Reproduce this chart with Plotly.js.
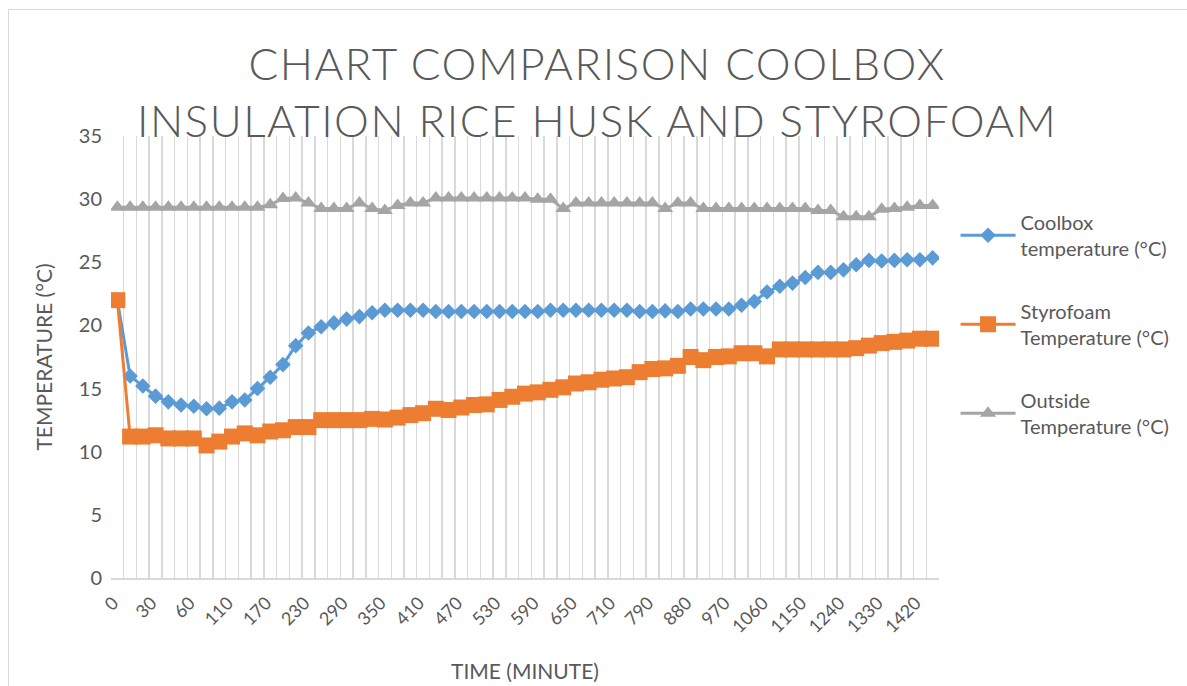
<!DOCTYPE html>
<html>
<head>
<meta charset="utf-8">
<script src="https://cdn.plot.ly/plotly-3.0.1.min.js"></script>
<style>
  html, body { margin: 0; padding: 0; background: #fff; }
  #wrap { position: relative; width: 1187px; height: 686px; overflow: hidden; }
  #chart { position: absolute; left: 0; top: 0; width: 1187px; height: 686px; }
  #frame { position: absolute; left: 8px; top: 9px; width: 1300px; height: 800px;
           border-top: 1.5px solid #D9D9D9; border-left: 1.5px solid #D9D9D9; pointer-events: none; }
  .gtitle { letter-spacing: 1.5px; }
</style>
</head>
<body>
<div id="wrap">
  <div id="chart"></div>
  <div id="frame"></div>
</div>
<script>
const timeMinutes = [0,10,20,30,40,50,60,70,90,110,130,150,170,190,210,230,250,270,290,310,330,350,370,390,410,430,450,470,490,510,530,550,570,590,610,630,650,670,690,710,730,760,790,820,850,880,910,940,970,1000,1030,1060,1090,1120,1150,1180,1210,1240,1270,1300,1330,1360,1390,1420,1440];

const coolboxTemp = [22.0,16.0,15.2,14.4,13.95,13.7,13.6,13.4,13.45,13.95,14.1,15.0,15.9,16.9,18.4,19.4,19.9,20.2,20.5,20.7,21.0,21.2,21.2,21.2,21.2,21.1,21.1,21.1,21.1,21.1,21.1,21.1,21.1,21.1,21.2,21.2,21.2,21.2,21.2,21.2,21.2,21.1,21.1,21.15,21.1,21.3,21.3,21.3,21.3,21.6,21.9,22.65,23.1,23.35,23.8,24.2,24.2,24.4,24.8,25.15,25.1,25.15,25.2,25.2,25.35];

const styrofoamTemp = [22.0,11.2,11.2,11.3,11.05,11.05,11.05,10.5,10.8,11.2,11.45,11.3,11.6,11.7,11.95,11.95,12.5,12.5,12.5,12.5,12.6,12.55,12.7,12.9,13.05,13.4,13.3,13.5,13.7,13.75,14.1,14.35,14.6,14.7,14.9,15.1,15.4,15.5,15.7,15.8,15.9,16.3,16.55,16.6,16.8,17.5,17.25,17.5,17.55,17.8,17.8,17.55,18.1,18.1,18.1,18.1,18.1,18.1,18.2,18.4,18.6,18.7,18.8,18.95,18.95];

const outsideTemp = [29.35,29.35,29.35,29.35,29.35,29.35,29.35,29.35,29.35,29.35,29.35,29.35,29.55,30.05,30.1,29.7,29.25,29.25,29.25,29.7,29.25,29.1,29.5,29.7,29.7,30.1,30.1,30.1,30.1,30.1,30.1,30.1,30.1,30.0,30.0,29.25,29.7,29.7,29.7,29.7,29.7,29.7,29.7,29.25,29.7,29.7,29.25,29.25,29.25,29.25,29.25,29.25,29.25,29.25,29.25,29.1,29.1,28.6,28.6,28.6,29.2,29.25,29.35,29.5,29.5];

const seriesNames = ["Coolbox<br>temperature (°C)", "Styrofoam<br>Temperature (°C)", "Outside<br>Temperature (°C)"];
const yTickValues = [0,5,10,15,20,25,30,35];
const labelEvery = 3;

const cats = timeMinutes.map(String);
const tickText = cats.map((c, i) => (i % labelEvery === 0 ? c : ""));

const font = "Lato, 'Open Sans', sans-serif";
const textColor = "#595959";

const traces = [
  { x: cats, y: coolboxTemp, name: seriesNames[0], legendgroup: "a", type: "scatter", mode: "lines+markers",
    line: { color: "#5B9BD5", width: 3 }, marker: { symbol: "diamond", size: 12, color: "#5B9BD5" } },
  { x: cats, y: styrofoamTemp, name: seriesNames[1], legendgroup: "b", type: "scatter", mode: "lines+markers",
    line: { color: "#ED7D31", width: 3 }, marker: { symbol: "square", size: 16, color: "#ED7D31" } },
  { x: cats, y: outsideTemp, name: seriesNames[2], legendgroup: "c", type: "scatter", mode: "lines+markers",
    line: { color: "#A5A5A5", width: 3 }, marker: { symbol: "triangle-up", size: 14, color: "#A5A5A5" } }
];

const layout = {
  width: 1187, height: 686,
  paper_bgcolor: "rgba(0,0,0,0)", plot_bgcolor: "rgba(0,0,0,0)",
  margin: { l: 111, r: 244, t: 136, b: 108, pad: 0 },
  font: { family: font, color: textColor },
  title: {
    text: "CHART COMPARISON COOLBOX<br>INSULATION RICE HUSK AND STYROFOAM",
    font: { family: font, size: 44, color: textColor, weight: 300 },
    x: 0.503, xanchor: "center", xref: "container",
    y: 0.884, yanchor: "top", yref: "container"
  },
  xaxis: {
    type: "category",
    range: [-0.5, cats.length - 0.5],
    tickmode: "array", tickvals: cats, ticktext: tickText,
    tickson: "boundaries",
    ticks: "", tickangle: -45,
    ticklabelstandoff: 6, ticklabelshift: -4,
    tickfont: { family: font, size: 18, color: textColor },
    showgrid: true, gridcolor: "#D9D9D9", gridwidth: 1.5,
    showline: true, linecolor: "#D9D9D9", linewidth: 1.5,
    zeroline: false, automargin: "left",
    title: { text: "TIME (MINUTE)", font: { family: font, size: 21, color: textColor }, standoff: 28 }
  },
  yaxis: {
    range: [0, 35], tickmode: "array", tickvals: yTickValues,
    showgrid: false, zeroline: false, showline: false, ticks: "",
    ticklabelstandoff: 8,
    tickfont: { family: font, size: 20, color: textColor },
    automargin: "top",
    title: { text: "TEMPERATURE (°C)", font: { family: font, size: 21, color: textColor }, standoff: 20 }
  },
  showlegend: true,
  legend: {
    x: 1.02, xanchor: "left", y: 0.849, yanchor: "top",
    font: { family: font, size: 20, color: textColor },
    tracegroupgap: 34, traceorder: "grouped",
    bgcolor: "rgba(0,0,0,0)", itemwidth: 55
  }
};

Plotly.newPlot("chart", traces, layout, { displayModeBar: false, staticPlot: true });
</script>
</body>
</html>
